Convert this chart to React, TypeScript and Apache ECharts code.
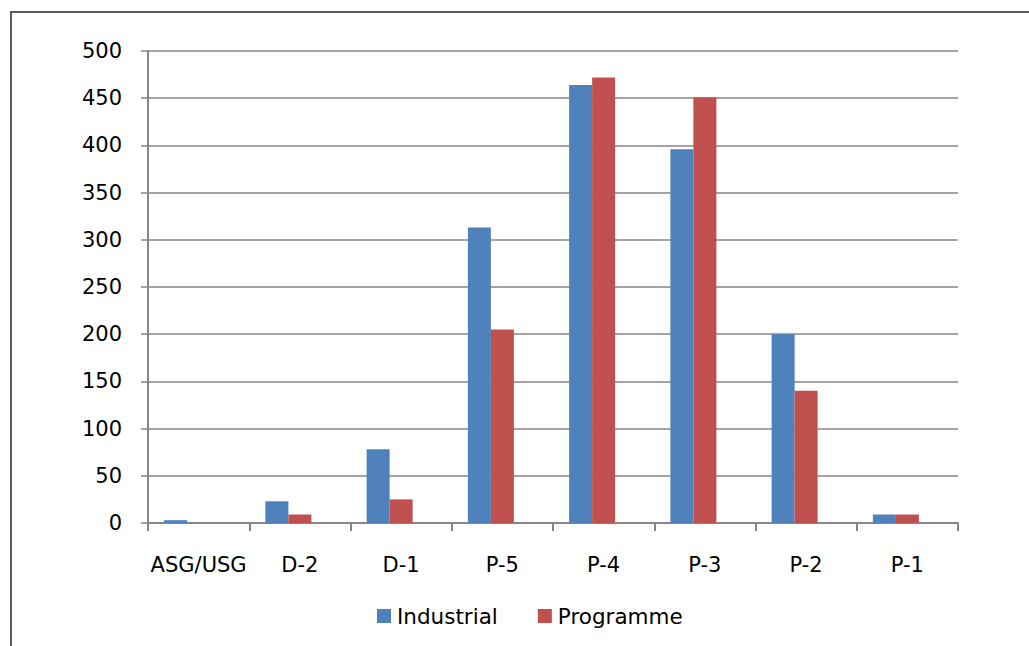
import React, { useEffect, useRef } from "react";
import * as echarts from "echarts";

const categories = ["ASG/USG", "D-2", "D-1", "P-5", "P-4", "P-3", "P-2", "P-1"];
const industrial = [3, 23, 78, 313, 464, 396, 200, 9];
const programme = [0, 9, 25, 205, 472, 451, 140, 9];
// Empty third slot in each group keeps the two bars left of the category centre.
const emptySlot = ["-", "-", "-", "-", "-", "-", "-", "-"];
const seriesNames = ["Industrial", "Programme"];

const FONT = "DejaVu Sans";

export default function App() {
  const ref = useRef<HTMLDivElement>(null);

  useEffect(() => {
    if (!ref.current) return;
    const chart = echarts.init(ref.current, null, { renderer: "svg" });
    chart.setOption({
      animation: false,
      backgroundColor: "#ffffff",
      color: ["#4F81BD", "#C0504D", "#9BBB59"],
      textStyle: { fontFamily: FONT },
      graphic: [
        {
          type: "rect",
          shape: { x: 11, y: 12, width: 1100, height: 700 },
          style: { fill: "none", stroke: "#5a5a5a", lineWidth: 2 },
          silent: true,
        },
      ],
      grid: { left: 148, right: 71, top: 51, bottom: 123 },
      legend: {
        bottom: 14,
        left: 372,
        itemWidth: 14,
        itemHeight: 14,
        itemGap: 40,
        icon: "rect",
        textStyle: { fontFamily: FONT, fontSize: 21.5, color: "#000", padding: [0, 0, 0, 1] },
        data: seriesNames,
      },
      xAxis: {
        type: "category",
        data: categories,
        axisLine: { lineStyle: { color: "#868686", width: 2 } },
        axisTick: { show: true, length: 8, lineStyle: { color: "#868686", width: 2 } },
        axisLabel: { fontFamily: FONT, fontSize: 21, color: "#000", margin: 31, interval: 0 },
      },
      yAxis: {
        type: "value",
        min: 0,
        max: 500,
        interval: 50,
        axisLine: { show: true, lineStyle: { color: "#868686", width: 2 } },
        axisTick: { show: true, length: 7, lineStyle: { color: "#868686", width: 1.5 } },
        splitLine: { lineStyle: { color: "#868686", width: 1.5 } },
        axisLabel: { fontFamily: FONT, fontSize: 21, color: "#000", margin: 26 },
      },
      series: [
        {
          name: seriesNames[0],
          type: "bar",
          data: industrial,
          barWidth: 23,
          barGap: "0%",
        },
        {
          name: seriesNames[1],
          type: "bar",
          data: programme,
          barWidth: 23,
          barGap: "0%",
        },
        {
          name: "",
          type: "bar",
          data: emptySlot,
          barWidth: 23,
          barGap: "0%",
          silent: true,
        },
      ],
    });
    return () => chart.dispose();
  }, []);

  return (
    <div
      ref={ref}
      style={{ position: "fixed", left: 0, top: 0, width: 1029, height: 646 }}
    />
  );
}
